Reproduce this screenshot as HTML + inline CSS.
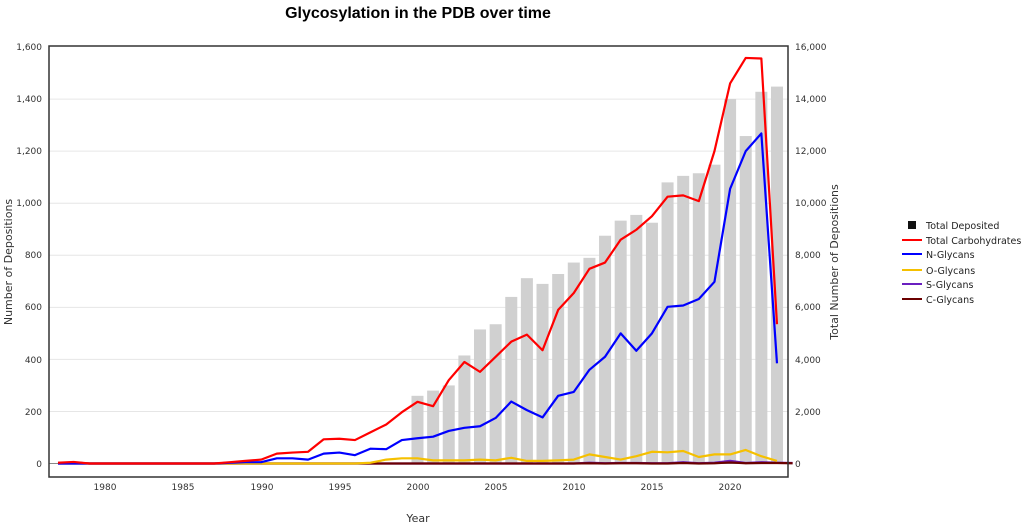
<!DOCTYPE html>
<html><head><meta charset="utf-8"><style>
body{margin:0;background:#fff;}
svg{display:block;font-family:"DejaVu Sans","Liberation Sans",sans-serif;}
</style></head><body>
<svg id="s" width="1024" height="524" xmlns="http://www.w3.org/2000/svg">
<text x="418" y="18" text-anchor="middle" font-family="Liberation Sans, sans-serif" font-weight="bold" font-size="16">Glycosylation in the PDB over time</text>
<g id="grid" stroke="#e6e6e6" stroke-width="1"></g>
<g id="bars" fill="#d0d0d0"></g>
<g id="lines" fill="none" stroke-width="2.2" stroke-linejoin="round"></g>
<rect x="49" y="46" width="739" height="431" fill="none" stroke="#333" stroke-width="1.5"/>
<g font-size="9" fill="#333" text-anchor="end">
<text x="42" y="50">1,600</text><text x="42" y="102">1,400</text><text x="42" y="154">1,200</text><text x="42" y="206">1,000</text><text x="42" y="258">800</text><text x="42" y="310">600</text><text x="42" y="363">400</text><text x="42" y="415">200</text><text x="42" y="467">0</text>
</g>
<g font-size="9" fill="#333">
<text x="795" y="50">16,000</text><text x="795" y="102">14,000</text><text x="795" y="154">12,000</text><text x="795" y="206">10,000</text><text x="795" y="258">8,000</text><text x="795" y="310">6,000</text><text x="795" y="363">4,000</text><text x="795" y="415">2,000</text><text x="795" y="467">0</text>
</g>
<g font-size="9" fill="#333" text-anchor="middle">
<text x="105" y="490">1980</text><text x="183" y="490">1985</text><text x="262" y="490">1990</text><text x="340" y="490">1995</text><text x="418" y="490">2000</text><text x="496" y="490">2005</text><text x="574" y="490">2010</text><text x="652" y="490">2015</text><text x="730" y="490">2020</text>
</g>
<text x="418" y="522" text-anchor="middle" font-size="11" fill="#333">Year</text>
<text transform="translate(12,262) rotate(-90)" text-anchor="middle" font-size="11" fill="#333">Number of Depositions</text>
<text transform="translate(838,262) rotate(-90)" text-anchor="middle" font-size="11" fill="#333">Total Number of Depositions</text>
<g font-size="9.5" fill="#222">
<rect x="908" y="221" width="8" height="8" fill="#111"/><text x="926" y="229">Total Deposited</text>
<line x1="902" y1="240" x2="922" y2="240" stroke="#f00" stroke-width="2"/><text x="926" y="244">Total Carbohydrates</text>
<line x1="902" y1="254" x2="922" y2="254" stroke="#00f" stroke-width="2"/><text x="926" y="258">N-Glycans</text>
<line x1="902" y1="270" x2="922" y2="270" stroke="#f5c000" stroke-width="2"/><text x="926" y="274">O-Glycans</text>
<line x1="902" y1="284" x2="922" y2="284" stroke="#6a1fc0" stroke-width="2"/><text x="926" y="288">S-Glycans</text>
<line x1="902" y1="299" x2="922" y2="299" stroke="#6b0000" stroke-width="2"/><text x="926" y="303">C-Glycans</text>
</g>
</svg>
<script>
var Y=v=>463.5-v*0.2603, X=y=>58+(y-1977)*15.63, NS="http://www.w3.org/2000/svg";
function el(p,t,a){var e=document.createElementNS(NS,t);for(var k in a)e.setAttribute(k,a[k]);document.getElementById(p).appendChild(e);}
for(var v=200;v<=1400;v+=200)el("grid","line",{x1:49,x2:788,y1:Y(v),y2:Y(v)});
el("grid","line",{x1:49,x2:788,y1:Y(0),y2:Y(0),stroke:"#888"});
var bars=[260,280,300,415,515,535,640,712,690,728,772,790,875,933,955,925,1080,1105,1115,1148,1400,1258,1428,1448];
bars.forEach((b,i)=>el("bars","rect",{x:X(2000+i)-6,y:Y(b),width:12,height:Y(0)-Y(b)}));
var z=n=>Array(n).fill(0);
var red=[3,6,0].concat(z(8),[5,10,15,38,42,45,93,95,90,120,150,197,237,220,320,390,352,410,468,495,435,590,655,748,772,860,898,950,1025,1030,1008,1200,1460,1558,1556,535]);
var blue=[0,0,0].concat(z(8),[3,5,5,20,20,15,38,42,32,57,55,90,97,103,125,137,143,175,238,205,177,260,275,360,410,500,433,500,602,607,632,698,1055,1200,1268,385]);
var yel=z(20).concat([3,15,20,20,12,12,12,15,12,22,10,10,12,15,35,25,15,28,45,43,48,25,35,35,52,28,10]);
var pur=z(34).concat([3,1,2,2,1,1,5,1,3,10,2,5,3,2]);
var brn=[2,4,0].concat(z(31),[1,0,1,1,0,0,2,0,1,4,1,2,2,1]);
[[pur,"#6a1fc0"],[brn,"#6b0000"],[yel,"#f5c000"],[blue,"#00f"],[red,"#f00"]].forEach(s=>{
el("lines","polyline",{stroke:s[1],points:s[0].map((v,i)=>X(1977+i)+","+Y(v)).join(" ")});});
</script>
</body></html>
